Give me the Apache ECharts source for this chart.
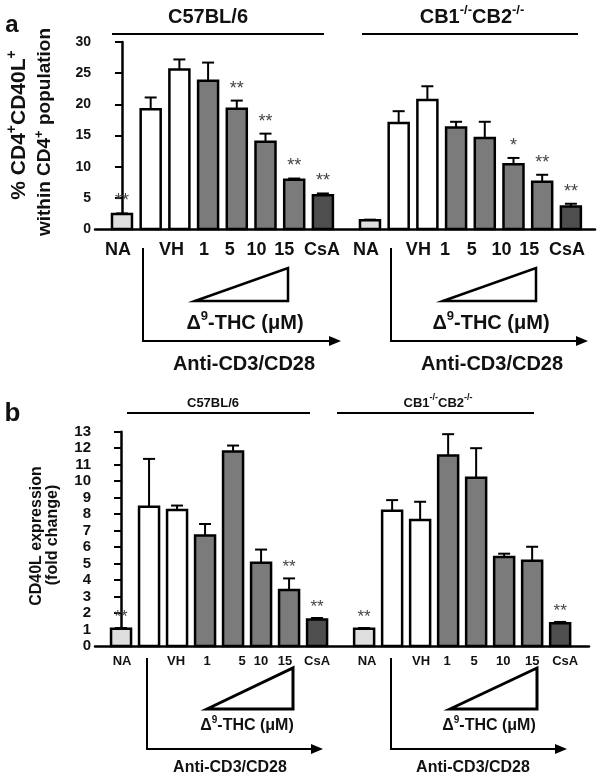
<!DOCTYPE html>
<html><head><meta charset="utf-8">
<script src="https://cdn.jsdelivr.net/npm/echarts@6/dist/echarts.min.js"></script>
<style>html,body{margin:0;padding:0;background:#fff}#c{width:601px;height:778px}</style>
</head><body><div id="c"></div>
<script>
// ---------------- data ----------------
const categories = ['NA', '', 'VH', '1', '5', '10', '15', 'CsA'];
const strainLabels = ['C57BL/6', 'CB1-/-CB2-/-'];

// panel a: % CD4+CD40L+ within CD4+ population
const aTicks = [0, 5, 10, 15, 20, 25, 30];
const aWTMean = [2.4, 19.2, 25.6, 23.8, 19.3, 14.0, 7.9, 5.4];
const aWTErr  = [0.1, 1.9, 1.6, 2.9, 1.3, 1.3, 0.2, 0.3];
const aWTSig  = ['**', '', '', '', '**', '**', '**', '**'];
const aKOMean = [1.4, 17.0, 20.7, 16.3, 14.6, 10.4, 7.6, 3.6];
const aKOErr  = [0.1, 1.9, 2.2, 0.9, 2.6, 1.0, 1.1, 0.45];
const aKOSig  = ['', '', '', '', '', '*', '**', '**'];

// panel b: CD40L expression (fold change)
const bTicks = [0, 1, 2, 3, 4, 5, 6, 7, 8, 9, 10, 11, 12, 13];
const bWTMean = [1.05, 8.45, 8.25, 6.7, 11.8, 5.05, 3.4, 1.6];
const bWTErr  = [0.04, 2.9, 0.27, 0.7, 0.36, 0.8, 0.7, 0.1];
const bWTSig  = ['**', '', '', '', '', '', '**', '**'];
const bKOMean = [1.05, 8.2, 7.65, 11.55, 10.2, 5.4, 5.17, 1.38];
const bKOErr  = [0.04, 0.65, 1.1, 1.3, 1.8, 0.2, 0.85, 0.08];
const bKOSig  = ['**', '', '', '', '', '', '', '**'];

// ---------------- style / layout ----------------
const FONT = '"Liberation Sans", Arial, Helvetica, sans-serif';
const fills = ['#dedede', '#ffffff', '#ffffff', '#7b7b7b', '#7b7b7b', '#7b7b7b', '#7b7b7b', '#4e4e4e'];
const nudgeA = [[-4, 0, -8, -4, -7, -9, -10, -1], [-4, 0, -9, -11, -13, -12, -13, -4]];
const nudgeB = [[1, 0, -1, 2, 9, 0, -4, 0], [3, 0, 1, -1, -2, -1, 0, 5]];

function panelData(wtMean, wtErr, koMean, koErr, koOffset) {
  const d = [];
  for (let i = 0; i < wtMean.length; i++) d.push([i, wtMean[i], wtErr[i], i, 0]);
  for (let i = 0; i < koMean.length; i++) d.push([koOffset + i, koMean[i], koErr[i], i, 1]);
  return d;
}

function makeRender(sig, nudges, cfg) {
  return function (params, api) {
    const x = api.value(0), v = api.value(1), e = api.value(2), i = api.value(3), g = api.value(4);
    const base = api.coord([x, 0]);
    const top = api.coord([x, v]);
    const cap = api.coord([x, v + e]);
    const w = cfg.barW;
    const children = [
      { type: 'line', shape: { x1: top[0], y1: top[1], x2: cap[0], y2: cap[1] }, style: { stroke: '#000', lineWidth: 2 } },
      { type: 'line', shape: { x1: cap[0] - cfg.capW / 2, y1: cap[1], x2: cap[0] + cfg.capW / 2, y2: cap[1] }, style: { stroke: '#000', lineWidth: 2 } },
      { type: 'rect', shape: { x: base[0] - w / 2, y: top[1], width: w, height: base[1] - top[1] },
        style: { fill: fills[i], stroke: '#000', lineWidth: 2.5 } }
    ];
    const s = sig[g][i];
    if (s) children.push({ type: 'text', x: cap[0], y: cap[1] - cfg.starGap,
      style: { text: s, fill: '#444', font: cfg.starFont, textAlign: 'center', textVerticalAlign: 'middle', align: 'center', verticalAlign: 'middle' } });
    const lab = categories[i];
    if (lab) children.push({ type: 'text', x: base[0] + nudges[g][i], y: base[1] + cfg.labelDy,
      style: { text: lab, fill: '#111', font: cfg.labelFont, textAlign: 'center', textVerticalAlign: 'middle', align: 'center', verticalAlign: 'middle' } });
    return { type: 'group', children };
  };
}

// graphic helpers
function T(x, y, text, size, opts) {
  opts = opts || {};
  return { type: 'text', x, y, rotation: opts.rot || 0, z: 100,
    style: { text, fill: '#111', font: 'bold ' + size + 'px ' + FONT,
      textAlign: opts.align || 'center', textVerticalAlign: 'middle', align: opts.align || 'center', verticalAlign: 'middle' } };
}
function R(x, y, text, size, supSize, opts) {
  opts = opts || {};
  return { type: 'text', x, y, rotation: opts.rot || 0, z: 100,
    style: { text, fill: '#111', textAlign: 'center', textVerticalAlign: 'middle', align: 'center', verticalAlign: 'middle',
      rich: {
        m: { fontSize: size, fontWeight: 'bold', fontFamily: FONT, fill: '#111', color: '#111', lineHeight: size + 6 },
        s: { fontSize: supSize, fontWeight: 'bold', fontFamily: FONT, fill: '#111', color: '#111', verticalAlign: 'top', lineHeight: supSize + 1 }
      } } };
}
function L(x1, y1, x2, y2, w) {
  return { type: 'line', z: 100, shape: { x1, y1, x2, y2 }, style: { stroke: '#000', lineWidth: w || 2 } };
}
function wedge(x1, y1, x2, y2, w) {
  return { type: 'polygon', z: 100, shape: { points: [[x1, y1], [x2, y2], [x2, y1]] }, style: { fill: 'none', stroke: '#000', lineWidth: w, lineJoin: 'miter' } };
}
function arrow(xv, yTop, yBot, xTip, w) {
  return [
    { type: 'polyline', z: 100, shape: { points: [[xv, yTop], [xv, yBot], [xTip - 8, yBot]] }, style: { stroke: '#000', lineWidth: w, fill: 'none' } },
    { type: 'polygon', z: 100, shape: { points: [[xTip, yBot], [xTip - 12, yBot - 5], [xTip - 12, yBot + 5]] }, style: { fill: '#000' } }
  ];
}

const graphic = [
  // panel a
  T(12, 25, 'a', 24),
  R(208, 17, '{m|' + strainLabels[0] + '}', 20, 14),
  L(112, 34, 324, 34, 2),
  R(472, 17, '{m|CB1}{s|-/-}{m|CB2}{s|-/-}', 20, 13),
  L(362, 34, 578, 34, 2),
  R(19, 125, '{m|% CD4}{s|+}{m|CD40L}{s|+}', 21, 14, { rot: Math.PI / 2 }),
  R(45, 132, '{m|within CD4}{s|+}{m| population}', 19, 13, { rot: Math.PI / 2 }),
  wedge(195, 301, 288, 268, 2.5),
  wedge(443, 301, 536, 268, 2.5),
  R(245, 323, '{m|Δ}{s|9}{m|-THC (μM)}', 20, 13),
  R(491, 323, '{m|Δ}{s|9}{m|-THC (μM)}', 20, 13),
  ...arrow(143, 248, 341, 341, 2),
  ...arrow(391, 248, 341, 588, 2),
  T(244, 364, 'Anti-CD3/CD28', 20),
  T(492, 364, 'Anti-CD3/CD28', 20),
  // panel b
  T(12.5, 414, 'b', 26),
  R(213, 403, '{m|' + strainLabels[0] + '}', 13, 9),
  L(127, 413, 310, 413, 2),
  R(438, 403, '{m|CB1}{s|-/-}{m|CB2}{s|-/-}', 13, 9),
  L(337, 413, 534, 413, 2),
  T(37, 536, 'CD40L expression', 16, { rot: Math.PI / 2 }),
  T(53, 535, '(fold change)', 16, { rot: Math.PI / 2 }),
  wedge(207, 709, 293, 668, 3),
  wedge(450, 709, 537, 668, 3),
  R(247, 726, '{m|Δ}{s|9}{m|-THC (μM)}', 16, 10),
  R(489, 726, '{m|Δ}{s|9}{m|-THC (μM)}', 16, 10),
  ...arrow(147, 658, 749, 323, 2),
  ...arrow(391, 658, 749, 567, 2),
  T(230, 768, 'Anti-CD3/CD28', 16),
  T(473, 768, 'Anti-CD3/CD28', 16)
];

function xAx(grid, min, max) {
  return { gridIndex: grid, type: 'value', min, max,
    axisLine: { show: true, onZero: false, lineStyle: { color: '#000', width: 2.5 } },
    axisTick: { show: false }, axisLabel: { show: false }, splitLine: { show: false } };
}
function yAx(grid, ticks, size) {
  return { gridIndex: grid, type: 'value', min: ticks[0], max: ticks[ticks.length - 1], interval: ticks[1] - ticks[0],
    axisLine: { show: true, lineStyle: { color: '#000', width: 2.5 } },
    axisTick: { show: true, length: 7, lineStyle: { color: '#000', width: 2 } },
    axisLabel: { fontSize: size, fontWeight: 'bold', color: '#111', fontFamily: FONT, margin: 4 },
    splitLine: { show: false } };
}

const chart = echarts.init(document.getElementById('c'), null, { renderer: 'canvas' });
chart.setOption({
  animation: false,
  backgroundColor: '#fff',
  grid: [
    { left: 95, top: 42, width: 500, height: 187 },
    { left: 95, top: 431.7, width: 494, height: 214.3 }
  ],
  xAxis: [xAx(0, -0.94, 16.48), xAx(1, -0.93, 16.71)],
  yAxis: [yAx(0, aTicks, 14), yAx(1, bTicks, 15)],
  series: [
    { type: 'custom', xAxisIndex: 0, yAxisIndex: 0, clip: false,
      renderItem: makeRender([aWTSig, aKOSig], nudgeA, { barW: 20, capW: 12, starGap: 12, starFont: '18px ' + FONT, labelDy: 21, labelFont: 'bold 18px ' + FONT }),
      data: panelData(aWTMean, aWTErr, aKOMean, aKOErr, 8.64) },
    { type: 'custom', xAxisIndex: 1, yAxisIndex: 1, clip: false,
      renderItem: makeRender([bWTSig, bKOSig], nudgeB, { barW: 20, capW: 12, starGap: 11, starFont: '17px ' + FONT, labelDy: 15, labelFont: 'bold 13px ' + FONT }),
      data: panelData(bWTMean, bWTErr, bKOMean, bKOErr, 8.68) }
  ],
  graphic
});
</script>
</body></html>
